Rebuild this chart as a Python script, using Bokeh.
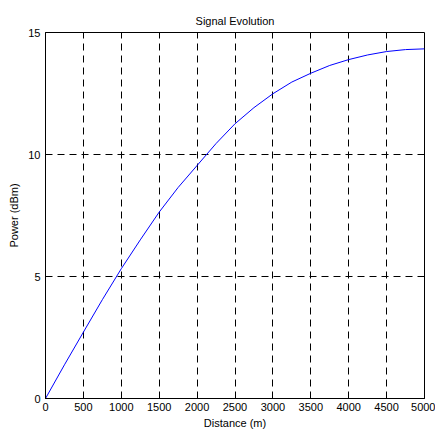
from bokeh.plotting import figure
from bokeh.models import Range1d, FixedTicker
from bokeh.embed import file_html
from bokeh.resources import INLINE

distance = [0, 250, 500, 750, 1000, 1250, 1500, 1750, 2000, 2250, 2500,
            2750, 3000, 3250, 3500, 3750, 4000, 4250, 4500, 4750, 5000]
power = [0.0, 1.38, 2.72, 4.05, 5.32, 6.50, 7.64, 8.65, 9.55, 10.45, 11.26,
         11.92, 12.49, 12.97, 13.33, 13.65, 13.89, 14.08, 14.22, 14.30, 14.33]
x_ticks = [0, 500, 1000, 1500, 2000, 2500, 3000, 3500, 4000, 4500, 5000]
y_ticks = [0, 5, 10, 15]

FONT = "Liberation Sans"

p = figure(width=435, height=436, output_backend="svg", toolbar_location=None,
           x_range=Range1d(0, 5000), y_range=Range1d(0, 15),
           min_border_left=45, min_border_right=11, min_border_top=32, min_border_bottom=38,
           title="Signal Evolution")
p.title.align = "center"
p.title.text_font = FONT
p.title.text_font_size = "11px"
p.title.text_font_style = "normal"
p.title.text_color = "black"
p.title.standoff = 12

p.line(distance, power, line_color="#0000ff", line_width=1)

for ax in (p.xaxis[0], p.yaxis[0]):
    ax.major_tick_in = 5
    ax.major_tick_out = 0
    ax.minor_tick_line_color = None
    ax.major_label_text_font = FONT
    ax.major_label_text_font_size = "11px"
    ax.axis_label_text_font = FONT
    ax.axis_label_text_font_size = "11px"
    ax.axis_label_text_font_style = "normal"
    ax.axis_line_color = "black"
    ax.major_tick_line_color = "black"
    ax.major_label_text_color = "black"
    ax.axis_label_text_color = "black"

p.xaxis[0].ticker = FixedTicker(ticks=x_ticks)
p.yaxis[0].ticker = FixedTicker(ticks=y_ticks)
p.xaxis[0].axis_label = "Distance (m)"
p.yaxis[0].axis_label = "Power (dBm)"
p.xaxis[0].major_label_standoff = 4
p.xaxis[0].axis_label_standoff = 3
p.yaxis[0].major_label_standoff = 5
p.yaxis[0].axis_label_standoff = 5

p.xgrid.ticker = FixedTicker(ticks=x_ticks)
p.ygrid.ticker = FixedTicker(ticks=y_ticks)
for g in (p.xgrid[0], p.ygrid[0]):
    g.grid_line_color = "black"
    g.grid_line_dash = "7 5"
    g.grid_line_width = 1
    g.grid_line_alpha = 1.0

p.outline_line_color = "black"
p.outline_line_width = 1
p.outline_line_alpha = 1.0
p.background_fill_color = "white"
p.border_fill_color = "white"

open("out.html", "w").write(file_html(p, INLINE))
